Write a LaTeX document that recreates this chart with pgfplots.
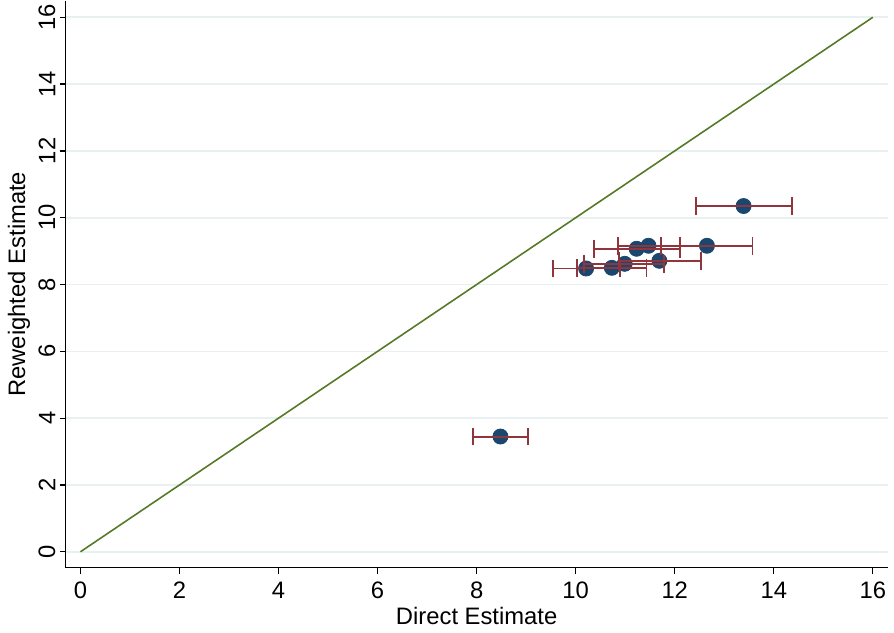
\documentclass[border=0pt]{standalone}
\usepackage{pgfplots}
\pgfplotsset{compat=1.18}
\usepackage{fontspec}
\setmainfont{Liberation Sans}
\definecolor{statagreen}{RGB}{85,122,38}
\definecolor{statanavy}{RGB}{26,71,111}
\definecolor{statamaroon}{RGB}{144,53,59}
\definecolor{gridc}{RGB}{232,240,242}
\begin{document}
\fontsize{12}{14}\selectfont
\begin{tikzpicture}
\begin{axis}[
  scale only axis,
  width=414.5pt, height=286pt,
  xmin=-0.3, xmax=16.3, ymin=-0.48, ymax=16.5,
  axis x line*=bottom, axis y line*=left,
  axis line style={black, line width=0.6pt},
  xtick={0,2,...,16}, ytick={0,2,...,16},
  tick align=outside, major tick length=3pt,
  tick style={black, line width=0.6pt},
  /pgf/number format/assume math mode=true,
  ticklabel style={font=\fontsize{12}{14}\selectfont},
  yticklabel style={rotate=90, anchor=south, inner sep=2pt},
  ymajorgrids, grid style={gridc, line width=0.8pt},
  xlabel={Direct Estimate}, ylabel={Reweighted Estimate},
  label style={font=\fontsize{12}{14}\selectfont},
  xlabel style={yshift=4pt},
  ylabel style={yshift=-2pt},
  clip=false, clip marker paths=true,
]
\addplot[statagreen, line width=0.8pt] coordinates {(0,0) (16,16)};
\addplot[only marks, mark=*, mark size=3.8pt, mark options={fill=statanavy, draw=statanavy}] table {
x y
8.48 3.45
10.21 8.48
10.73 8.50
10.99 8.62
11.69 8.71
11.23 9.07
11.47 9.16
12.65 9.16
13.39 10.35
};
\addplot[draw=none, mark=none, forget plot,
  error bars/.cd, x dir=both, x explicit,
  error mark=|, error mark options={statamaroon, line width=0.9pt, mark size=4.5pt, rotate=0},
  error bar style={draw=statamaroon, line width=1pt}]
  table[x=x, y=y, x error plus=ep, x error minus=em] {
x y ep em
8.48 3.45 0.56 0.55
10.21 8.48 0.68 0.67
10.73 8.50 0.70 0.70
10.99 8.62 0.80 0.82
11.69 8.71 0.84 0.82
11.23 9.07 0.88 0.86
11.47 9.16 0.64 0.62
12.65 9.16 0.92 0.92
13.39 10.35 0.97 0.96
};
\end{axis}
\end{tikzpicture}
\end{document}
